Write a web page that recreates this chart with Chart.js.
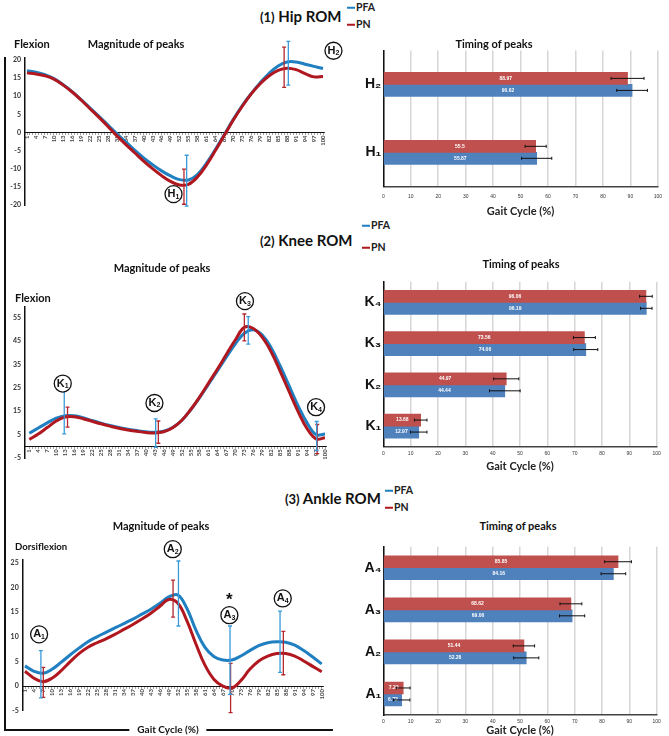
<!DOCTYPE html>
<html><head><meta charset="utf-8">
<script src="https://cdn.jsdelivr.net/npm/chart.js@4"></script>
<style>
html,body{margin:0;padding:0;background:#fff;width:669px;height:736px;overflow:hidden;font-family:Lato,'DejaVu Sans',sans-serif;}
canvas{position:absolute;}
.t{position:absolute;white-space:nowrap;font-weight:bold;color:#111;transform:translate(0,-50%);line-height:1;}
.c{transform:translate(-50%,-50%);}
.ln{position:absolute;background:#111;}
.lg{position:absolute;white-space:nowrap;font-weight:bold;font-size:10.5px;color:#222;transform:translate(0,-50%);line-height:1;}
.lg i{display:inline-block;width:8px;height:2px;vertical-align:middle;margin-right:1px;}
</style></head><body>
<canvas id="hipLine" width="345" height="180" style="left:0;top:35px"></canvas>
<canvas id="kneeLine" width="345" height="180" style="left:0;top:290px"></canvas>
<canvas id="ankleLine" width="345" height="190" style="left:0;top:530px"></canvas>
<canvas id="hipBar" width="319" height="178" style="left:350px;top:40px"></canvas>
<canvas id="kneeBar" width="319" height="208" style="left:350px;top:265px"></canvas>
<canvas id="ankleBar" width="319" height="202" style="left:350px;top:535px"></canvas>

<div class="ln" style="left:4px;top:57px;width:1.5px;height:673px"></div>
<div class="ln" style="left:4px;top:729px;width:329px;height:1.5px"></div>
<div class="t c" style="left:168px;top:729px;font-size:10px;background:#fff;padding:0 8px">Gait Cycle (%)</div>

<div class="t" style="left:260px;top:16px;font-size:15px"><span style="font-size:13px">(1)</span> Hip ROM</div>
<div class="lg" style="left:347px;top:7px"><i style="background:#1f7fc0"></i>PFA</div>
<div class="lg" style="left:347px;top:24px"><i style="background:#b0171f"></i>PN</div>
<div class="t" style="left:14px;top:43px;font-size:11px">Flexion</div>
<div class="t c" style="left:136px;top:43px;font-size:11px">Magnitude of peaks</div>
<div class="t c" style="left:494px;top:43px;font-size:11px">Timing of peaks</div>

<div class="t" style="left:260px;top:240px;font-size:15px"><span style="font-size:13px">(2)</span> Knee ROM</div>
<div class="lg" style="left:362px;top:225px"><i style="background:#1f7fc0"></i>PFA</div>
<div class="lg" style="left:362px;top:247px"><i style="background:#b0171f"></i>PN</div>
<div class="t" style="left:15px;top:297px;font-size:11px">Flexion</div>
<div class="t c" style="left:162px;top:267px;font-size:11px">Magnitude of peaks</div>
<div class="t c" style="left:521px;top:263px;font-size:11px">Timing of peaks</div>

<div class="t" style="left:285px;top:498px;font-size:15px"><span style="font-size:13px">(3)</span> Ankle ROM</div>
<div class="lg" style="left:385px;top:490px"><i style="background:#1f7fc0"></i>PFA</div>
<div class="lg" style="left:385px;top:507px"><i style="background:#b0171f"></i>PN</div>
<div class="t" style="left:15px;top:547px;font-size:9.6px">Dorsiflexion</div>
<div class="t c" style="left:161px;top:525px;font-size:11px">Magnitude of peaks</div>
<div class="t c" style="left:518px;top:525px;font-size:11px">Timing of peaks</div>

<script>
// ---------- DATA ----------
const gaitX = [1,4,7,10,13,16,19,22,25,28,31,34,37,40,43,46,49,52,55,58,61,64,67,70,73,76,79,82,85,88,91,94,97,100];

const hipPFA = [17.0,16.6,15.9,14.8,13.2,11.3,9.1,6.8,4.5,2.1,-0.3,-2.6,-4.9,-7.0,-8.9,-10.6,-12.0,-13.0,-13.1,-11.6,-8.5,-4.7,-0.6,3.6,7.4,10.7,13.7,16.3,18.3,19.4,19.4,18.8,18.2,17.6];
const hipPN  = [16.4,16.1,15.6,14.7,13.1,11.2,9.0,6.6,4.2,1.7,-0.9,-3.3,-5.6,-7.9,-10.0,-11.9,-13.5,-14.5,-14.3,-12.3,-9.0,-5.0,-0.8,3.4,7.2,10.6,13.4,15.6,17.1,17.7,17.3,16.2,15.3,15.4];

const kneePFA = [5.6,7.8,10.0,12.0,13.1,13.0,12.2,11.0,9.9,8.9,8.0,7.3,6.7,6.2,6.0,6.4,8.0,11.0,15.5,20.8,26.5,32.3,38.2,43.8,48.3,49.8,47.5,42.0,34.3,25.8,17.3,10.0,5.0,5.2];
const kneePN  = [2.9,5.2,8.0,10.8,12.5,12.6,11.8,10.7,9.6,8.6,7.7,7.0,6.4,5.9,5.7,6.2,7.9,11.0,15.6,21.0,27.0,33.0,39.3,45.5,50.8,50.3,46.5,40.3,32.0,23.3,14.8,7.5,3.2,3.6];

const anklePFA = [4.1,3.0,2.6,3.4,4.8,6.3,7.7,9.0,10.0,10.9,11.8,12.7,13.6,14.6,15.6,16.8,18.1,18.5,15.8,11.4,7.9,6.0,5.3,5.3,6.1,7.2,8.2,8.8,9.0,8.9,8.3,7.2,5.9,4.5];
const anklePN  = [3.0,1.6,0.9,1.6,3.1,4.9,6.6,7.9,8.8,9.6,10.5,11.5,12.5,13.6,14.8,16.2,17.6,16.8,13.3,8.6,4.3,1.4,0.0,-0.4,1.1,3.4,5.1,6.1,6.6,6.6,6.1,5.1,4.0,2.9];

// peak error bars on curves (gait %, low, high)
const hipPeakXPFA = [54.4, 88.4], hipPeakLoPFA = [-20.3, 13.0], hipPeakHiPFA = [-6.3, 25.1];
const hipPeakXPN  = [53.5, 87.0], hipPeakLoPN  = [-19.8, 12.4], hipPeakHiPN  = [-10.1, 23.5];
const kneePeakXPFA = [12.7, 43.3, 74.3, 97.2], kneePeakLoPFA = [5.3, -0.4, 43.6, -1.8], kneePeakHiPFA = [24.8, 11.7, 55.4, 10.6];
const kneePeakXPN  = [13.8, 44.2, 73.0, 97.4], kneePeakLoPN  = [8.2, 1.3, 45.0, -3.1], kneePeakHiPN  = [16.7, 10.8, 56.5, 9.3];
const anklePeakXPFA = [6.3, 52.2, 69.4, 86.1], anklePeakLoPFA = [-2.4, 12.2, -1.7, 2.8], anklePeakHiPFA = [7.2, 25.4, 12.2, 15.2];
const anklePeakXPN  = [7.1, 50.4, 69.6, 87.2], anklePeakLoPN  = [-2.3, 14.0, -5.4, 2.3], anklePeakHiPN  = [3.8, 21.5, 4.6, 11.1];

// timing of peaks (bars)
const hipCats = ['H₂','H₁'];
const hipTimePN = [88.97, 55.5], hipTimePFA = [90.62, 55.87];
const hipSdPN = [6.0, 3.85], hipSdPFA = [5.6, 5.5];
const kneeCats = ['K₄','K₃','K₂','K₁'];
const kneeTimePN = [96.06, 73.56, 44.97, 13.68], kneeTimePFA = [96.19, 74.06, 44.44, 12.97];
const kneeSdPN = [2.3, 4.0, 4.6, 2.3], kneeSdPFA = [2.1, 4.4, 5.6, 3.0];
const ankleCats = ['A₄','A₃','A₂','A₁'];
const ankleTimePN = [85.85, 68.62, 51.44, 7.29], ankleTimePFA = [84.16, 69.06, 52.28, 6.72];
const ankleSdPN = [4.9, 4.0, 3.9, 2.5], ankleSdPFA = [4.5, 4.6, 4.6, 3.0];

const barTicks = [0,10,20,30,40,50,60,70,80,90,100];
const hipYTicks = [-20,-15,-10,-5,0,5,10,15,20];
const kneeYTicks = [-5,5,15,25,35,45,55];
const ankleYTicks = [-5,0,5,10,15,20,25];

// ---------- STYLE ----------
const BLUE_LINE = '#1f7fc0', RED_LINE = '#b0171f';
const BLUE_ERR = '#3a9ad9', RED_ERR = '#b5282e';
const BLUE_BAR = '#4f81bd', RED_BAR = '#c0504d';
const allX = Array.from({length:100}, (_, i) => i + 1);

const peakPlugin = {
  id: 'peaks',
  afterDatasetsDraw(chart, args, opts) {
    const ctx = chart.ctx, xs = chart.scales.x, ys = chart.scales.y;
    ctx.save();
    (opts.bars || []).forEach(b => {
      ctx.strokeStyle = b.color; ctx.lineWidth = 1.3;
      b.x.forEach((xv, i) => {
        const px = xs.getPixelForValue(xv), y1 = ys.getPixelForValue(b.lo[i]), y2 = ys.getPixelForValue(b.hi[i]);
        ctx.beginPath();
        ctx.moveTo(px, y1); ctx.lineTo(px, y2);
        ctx.moveTo(px - 2, y1); ctx.lineTo(px + 2, y1);
        ctx.moveTo(px - 2, y2); ctx.lineTo(px + 2, y2);
        ctx.stroke();
      });
    });
    (opts.marks || []).forEach(m => {
      const px = xs.getPixelForValue(m.x), py = ys.getPixelForValue(m.y);
      ctx.beginPath(); ctx.arc(px, py, 8.5, 0, Math.PI * 2);
      ctx.fillStyle = '#fff'; ctx.fill();
      ctx.lineWidth = 1.3; ctx.strokeStyle = '#111'; ctx.stroke();
      ctx.fillStyle = '#111'; ctx.textBaseline = 'middle'; ctx.textAlign = 'left';
      ctx.font = 'bold 11px "Liberation Sans"';
      const lw = ctx.measureText(m.t).width;
      ctx.font = 'bold 7px "Liberation Sans"';
      const sw = ctx.measureText(m.s).width;
      const sx = px - (lw + sw) / 2;
      ctx.font = 'bold 11px "Liberation Sans"'; ctx.fillText(m.t, sx, py);
      ctx.font = 'bold 7px "Liberation Sans"'; ctx.fillText(m.s, sx + lw, py + 2.5);
    });
    if (opts.star) {
      ctx.fillStyle = '#111'; ctx.font = 'bold 17px "Liberation Sans"'; ctx.textAlign = 'center'; ctx.textBaseline = 'middle';
      ctx.fillText('*', xs.getPixelForValue(opts.star.x), ys.getPixelForValue(opts.star.y) + 3);
    }
    ctx.restore();
  }
};

function lineChart(id, pfa, pn, cfg) {
  new Chart(document.getElementById(id), {
    type: 'line',
    data: { datasets: [
      { label: 'PN', data: gaitX.map((x, i) => ({x, y: pn[i]})), borderColor: RED_LINE, borderWidth: 3, pointRadius: 0, tension: 0.4, order: 0 },
      { label: 'PFA', data: gaitX.map((x, i) => ({x, y: pfa[i]})), borderColor: BLUE_LINE, borderWidth: 3, pointRadius: 0, tension: 0.4, order: 1 }
    ]},
    options: {
      responsive: false, animation: false, events: [],
      layout: { padding: cfg.pad },
      plugins: { legend: { display: false }, tooltip: { enabled: false }, peaks: cfg.peaks },
      scales: {
        x: {
          type: 'linear', min: cfg.xmin, max: cfg.xmax, position: { y: 0 },
          afterBuildTicks: s => { s.ticks = allX.map(v => ({ value: v })); },
          ticks: { autoSkip: false, maxRotation: 90, minRotation: 90, padding: 1,
                   callback: v => ((v - 1) % 3 === 0 ? String(v) : ''),
                   font: { size: 6, weight: 'bold', family: 'Lato' }, color: '#444' },
          grid: { display: true, drawOnChartArea: false, drawTicks: true, tickLength: 2, color: '#666', lineWidth: 0.6 },
          border: { display: true, color: '#111', width: 1 }
        },
        y: {
          min: cfg.ymin, max: cfg.ymax,
          afterBuildTicks: s => { s.ticks = cfg.yticks.map(v => ({ value: v })); },
          afterFit: s => { s.width = cfg.yw; },
          ticks: { font: { size: 7, weight: 'bold', family: 'Lato' }, color: '#333', padding: 4 },
          grid: { display: true, drawOnChartArea: false, drawTicks: false },
          border: { display: true, color: '#111', width: 1.5 }
        }
      }
    },
    plugins: [peakPlugin]
  });
}

const barPlugin = {
  id: 'barExtras',
  afterDatasetsDraw(chart, args, opts) {
    const ctx = chart.ctx, xs = chart.scales.x;
    ctx.save();
    chart.data.datasets.forEach((ds, di) => {
      const meta = chart.getDatasetMeta(di);
      const sds = opts.sd[di];
      meta.data.forEach((bar, i) => {
        const v = ds.data[i];
        ctx.fillStyle = '#fff'; ctx.font = 'bold 5px "Liberation Sans"';
        ctx.textAlign = 'center'; ctx.textBaseline = 'middle';
        ctx.fillText(String(v), (bar.base + bar.x) / 2, bar.y);
        const x1 = xs.getPixelForValue(v - sds[i]), x2 = xs.getPixelForValue(v + sds[i]);
        ctx.strokeStyle = '#111'; ctx.lineWidth = 1;
        ctx.beginPath();
        ctx.moveTo(x1, bar.y); ctx.lineTo(x2, bar.y);
        ctx.moveTo(x1, bar.y - 1.5); ctx.lineTo(x1, bar.y + 1.5);
        ctx.moveTo(x2, bar.y - 1.5); ctx.lineTo(x2, bar.y + 1.5);
        ctx.stroke();
      });
    });
    ctx.restore();
  }
};

function barChart(id, cats, pn, pfa, sdPN, sdPFA, cfg) {
  new Chart(document.getElementById(id), {
    type: 'bar',
    data: { labels: cats, datasets: [
      { label: 'PN', data: pn, backgroundColor: RED_BAR, barThickness: 12 },
      { label: 'PFA', data: pfa, backgroundColor: BLUE_BAR, barThickness: 12 }
    ]},
    options: {
      indexAxis: 'y', responsive: false, animation: false, events: [],
      layout: { padding: cfg.pad },
      plugins: { legend: { display: false }, tooltip: { enabled: false }, barExtras: { sd: [sdPN, sdPFA] } },
      scales: {
        x: {
          min: 0, max: 100,
          afterBuildTicks: s => { s.ticks = barTicks.map(v => ({ value: v })); },
          afterFit: s => { s.height = cfg.xh; },
          ticks: { font: { size: 5, family: 'Liberation Sans' }, color: '#333', padding: cfg.tp, maxRotation: 0 },
          grid: { color: '#d6d6d6', lineWidth: 1.5, drawTicks: false },
          border: { color: '#444', width: 1.5 },
          title: { display: true, text: 'Gait Cycle (%)', font: { size: 11, weight: 'bold', family: 'Lato' }, color: '#222', padding: 0 }
        },
        y: {
          afterFit: s => { s.width = 33.3; },
          ticks: { font: { size: 14, weight: 'bold', family: '"Liberation Sans", "DejaVu Sans"' }, color: '#111', padding: 2 },
          grid: { display: true, drawOnChartArea: false, drawTicks: false },
          border: { color: '#111', width: 1.5 }
        }
      }
    },
    plugins: [barPlugin]
  });
}

lineChart('hipLine', hipPFA, hipPN, {
  pad: { top: 23, bottom: 10, right: 20.5, left: 0 }, xmin: 0.33, xmax: 100.5, ymin: -20, ymax: 20.5, yw: 25, yticks: hipYTicks,
  peaks: {
    bars: [ { color: RED_ERR, x: hipPeakXPN, lo: hipPeakLoPN, hi: hipPeakHiPN },
            { color: BLUE_ERR, x: hipPeakXPFA, lo: hipPeakLoPFA, hi: hipPeakHiPFA } ],
    marks: [ { t: 'H', s: '1', x: 50, y: -17 }, { t: 'H', s: '2', x: 103.5, y: 22.5 } ]
  }
});
lineChart('kneeLine', kneePFA, kneePN, {
  pad: { top: 17, bottom: 12, right: 18.5, left: 0 }, xmin: -0.44, xmax: 100.5, ymin: -5, ymax: 59.5, yw: 25, yticks: kneeYTicks,
  peaks: {
    bars: [ { color: RED_ERR, x: kneePeakXPN, lo: kneePeakLoPN, hi: kneePeakHiPN },
            { color: BLUE_ERR, x: kneePeakXPFA, lo: kneePeakLoPFA, hi: kneePeakHiPFA } ],
    marks: [ { t: 'K', s: '1', x: 12.2, y: 26.8 }, { t: 'K', s: '2', x: 42.9, y: 18.5 },
             { t: 'K', s: '3', x: 73.2, y: 62 }, { t: 'K', s: '4', x: 97, y: 16.7 } ]
  }
});
lineChart('ankleLine', anklePFA, anklePN, {
  pad: { top: 30, bottom: 9.3, right: 21.8, left: 0 }, xmin: 0.23, xmax: 100.5, ymin: -5, ymax: 25.6, yw: 22.7, yticks: ankleYTicks,
  peaks: {
    bars: [ { color: RED_ERR, x: anklePeakXPN, lo: anklePeakLoPN, hi: anklePeakHiPN },
            { color: BLUE_ERR, x: anklePeakXPFA, lo: anklePeakLoPFA, hi: anklePeakHiPFA } ],
    marks: [ { t: 'A', s: '1', x: 5.7, y: 10.5 }, { t: 'A', s: '2', x: 50.3, y: 27.8 },
             { t: 'A', s: '3', x: 69.2, y: 14.4 }, { t: 'A', s: '4', x: 87, y: 17.8 } ],
    star: { x: 69.2, y: 18.1 }
  }
});

barChart('hipBar', hipCats, hipTimePN, hipTimePFA, hipSdPN, hipSdPFA,
  { pad: { top: 5, bottom: 0, right: 9.7, left: 0 }, xh: 31.7, tp: 7 });
barChart('kneeBar', kneeCats, kneeTimePN, kneeTimePFA, kneeSdPN, kneeSdPFA,
  { pad: { top: 16.7, bottom: 0, right: 12.3, left: 0 }, xh: 26.3, tp: 4 });
barChart('ankleBar', ankleCats, ankleTimePN, ankleTimePFA, ankleSdPN, ankleSdPFA,
  { pad: { top: 11.7, bottom: 0, right: 12.3, left: 0 }, xh: 22, tp: 4 });
</script>
</body></html>
